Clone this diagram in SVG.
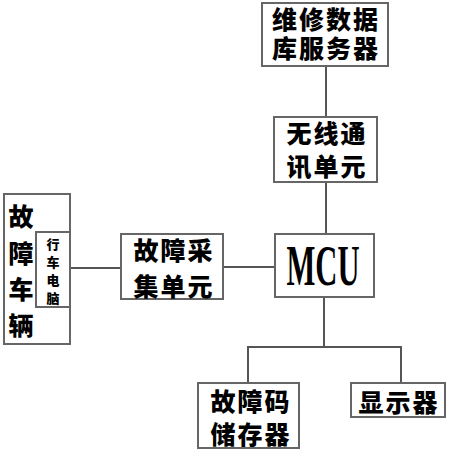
<svg xmlns="http://www.w3.org/2000/svg" width="455" height="450" viewBox="0 0 455 450">
<style>
.box{fill:#fff;stroke:#666;stroke-width:2}
.t{font-family:"Noto Sans CJK SC","Noto Sans",sans-serif;font-weight:900;font-size:25px;fill:#000;text-anchor:middle;dominant-baseline:central}
.s{font-family:"Noto Sans CJK SC","Noto Sans",sans-serif;font-weight:900;font-size:13px;fill:#000;text-anchor:middle;dominant-baseline:central}
.ln{fill:none;stroke:#555;stroke-width:2}
</style>
<rect width="455" height="450" fill="#fff"/>
<g id="connectors">
<line class="ln" x1="326" y1="66" x2="326" y2="117"/>
<line class="ln" x1="326" y1="182" x2="326" y2="234"/>
<line class="ln" x1="70" y1="268" x2="121" y2="268"/>
<line class="ln" x1="223" y1="267" x2="276" y2="267"/>
<polyline class="ln" points="324,297 324,347"/>
<polyline class="ln" points="248,383 248,347 401,347 401,383"/>
</g>
<g id="server">
<rect class="box" x="262" y="3" width="126" height="63"/>
<text class="t" x="326" y="18" font-size="24" letter-spacing="2">维修数据</text>
<text class="t" x="326" y="47" font-size="24" letter-spacing="2">库服务器</text>
</g>
<g id="wireless">
<rect class="box" x="274" y="117" width="103" height="65"/>
<text class="t" x="327" y="132" letter-spacing="2">无线通</text>
<text class="t" x="327" y="165" letter-spacing="2">讯单元</text>
</g>
<g id="vehicle">
<rect class="box" x="4" y="194" width="66" height="150"/>
<text class="t" x="21" y="215">故</text>
<text class="t" x="21" y="252">障</text>
<text class="t" x="21" y="288">车</text>
<text class="t" x="21" y="324">辆</text>
</g>
<g id="computer">
<rect class="box" x="36" y="232" width="34" height="75"/>
<text class="s" x="53" y="243">行</text>
<text class="s" x="53" y="261">车</text>
<text class="s" x="53" y="279">电</text>
<text class="s" x="53" y="297">脑</text>
</g>
<g id="collector">
<rect class="box" x="121" y="234" width="102" height="65"/>
<text class="t" x="174" y="249" letter-spacing="2">故障采</text>
<text class="t" x="174" y="285" letter-spacing="2">集单元</text>
</g>
<g id="mcu">
<rect class="box" x="275" y="234" width="99" height="63"/>
<text x="323" y="285" font-family="Liberation Serif,serif" font-weight="bold" font-size="56" text-anchor="middle" textLength="73" lengthAdjust="spacingAndGlyphs">MCU</text>
</g>
<g id="storage">
<rect class="box" x="198" y="383" width="101" height="65"/>
<text class="t" x="251" y="400" letter-spacing="2">故障码</text>
<text class="t" x="251" y="433" letter-spacing="2">储存器</text>
</g>
<g id="display">
<rect class="box" x="351" y="383" width="94" height="34"/>
<text class="t" x="399" y="401" letter-spacing="2">显示器</text>
</g>
</svg>
